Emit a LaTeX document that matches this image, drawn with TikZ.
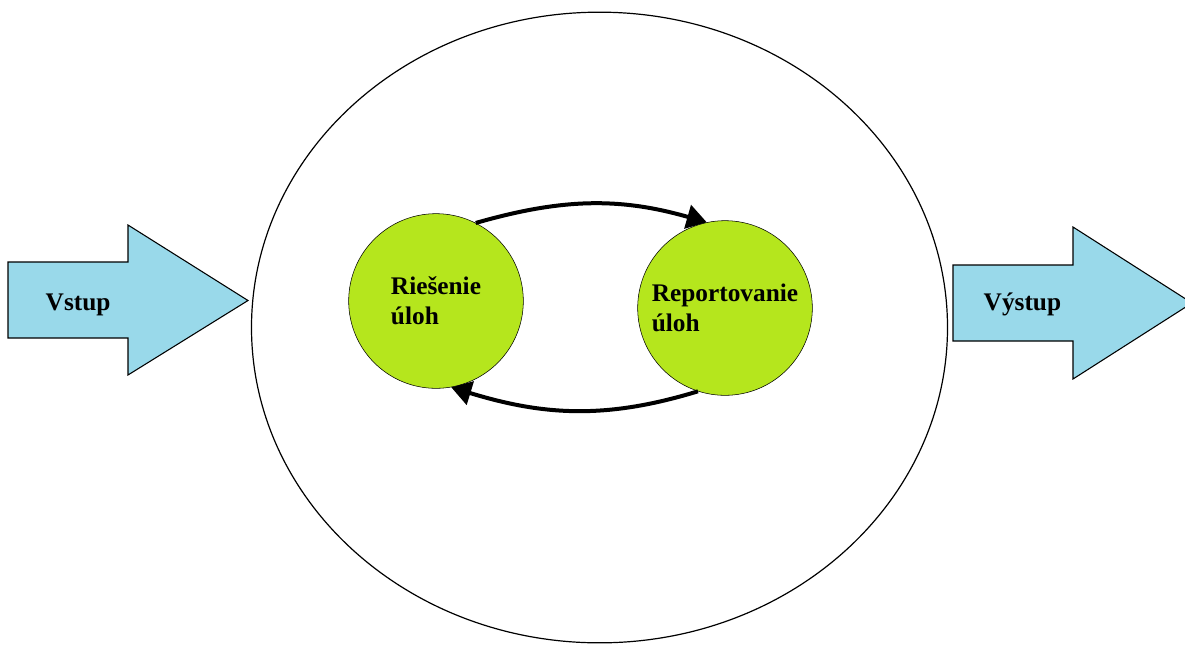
\documentclass[tikz,border=0pt]{standalone}
\usepackage{fontspec}
\setmainfont{Liberation Serif}
\usetikzlibrary{shapes.geometric,arrows.meta}
\definecolor{taskgreen}{RGB}{181,230,29}
\definecolor{flowblue}{RGB}{153,217,234}

\begin{document}
\begin{tikzpicture}[x=0.75pt,y=-0.75pt]
        \useasboundingbox (0,0) rectangle (1185,644);
        \clip (0,0) rectangle (1185,644);
        \tikzset{lbl/.style={font=\bfseries\fontsize{19}{22.5}\selectfont}}

        \node[draw, ellipse, line width=0.9pt, minimum width=522pt, minimum height=473pt] (sys) at (599.5,327.5) {};

        \draw[fill=flowblue, line width=0.8pt] (8,262) -- (128,262) -- (128,225) -- (248,300.5) -- (128,375) -- (128,338) -- (8,338) -- cycle;
        \node[lbl, anchor=base west] (vstup) at (41,310) {Vstup};

        \draw[fill=flowblue, line width=0.8pt] (953,265) -- (1073,265) -- (1073,227) -- (1192,303) -- (1073,379) -- (1073,341) -- (953,341) -- cycle;
        \node[lbl, anchor=base west] (vystup) at (979,310) {Výstup};

        \begin{scope}[every node/.style={lbl,circle,draw,fill=taskgreen,minimum size=131pt,inner sep=0pt,align=left}]
            \node (1) at (436,301) {Riešenie\\úloh};
            \node (2) at (725,308) {Reportovanie\\úloh};
        \end{scope}
        \begin{scope}[every edge/.style={draw,line width=3pt,-{Triangle[length=15pt,width=18pt]}}]
            \path (1.63) edge[out=16,in=164] (2.102);
            \path (2.252) edge[out=197,in=-17] (1.280);
        \end{scope}
    \end{tikzpicture}
\end{document}
